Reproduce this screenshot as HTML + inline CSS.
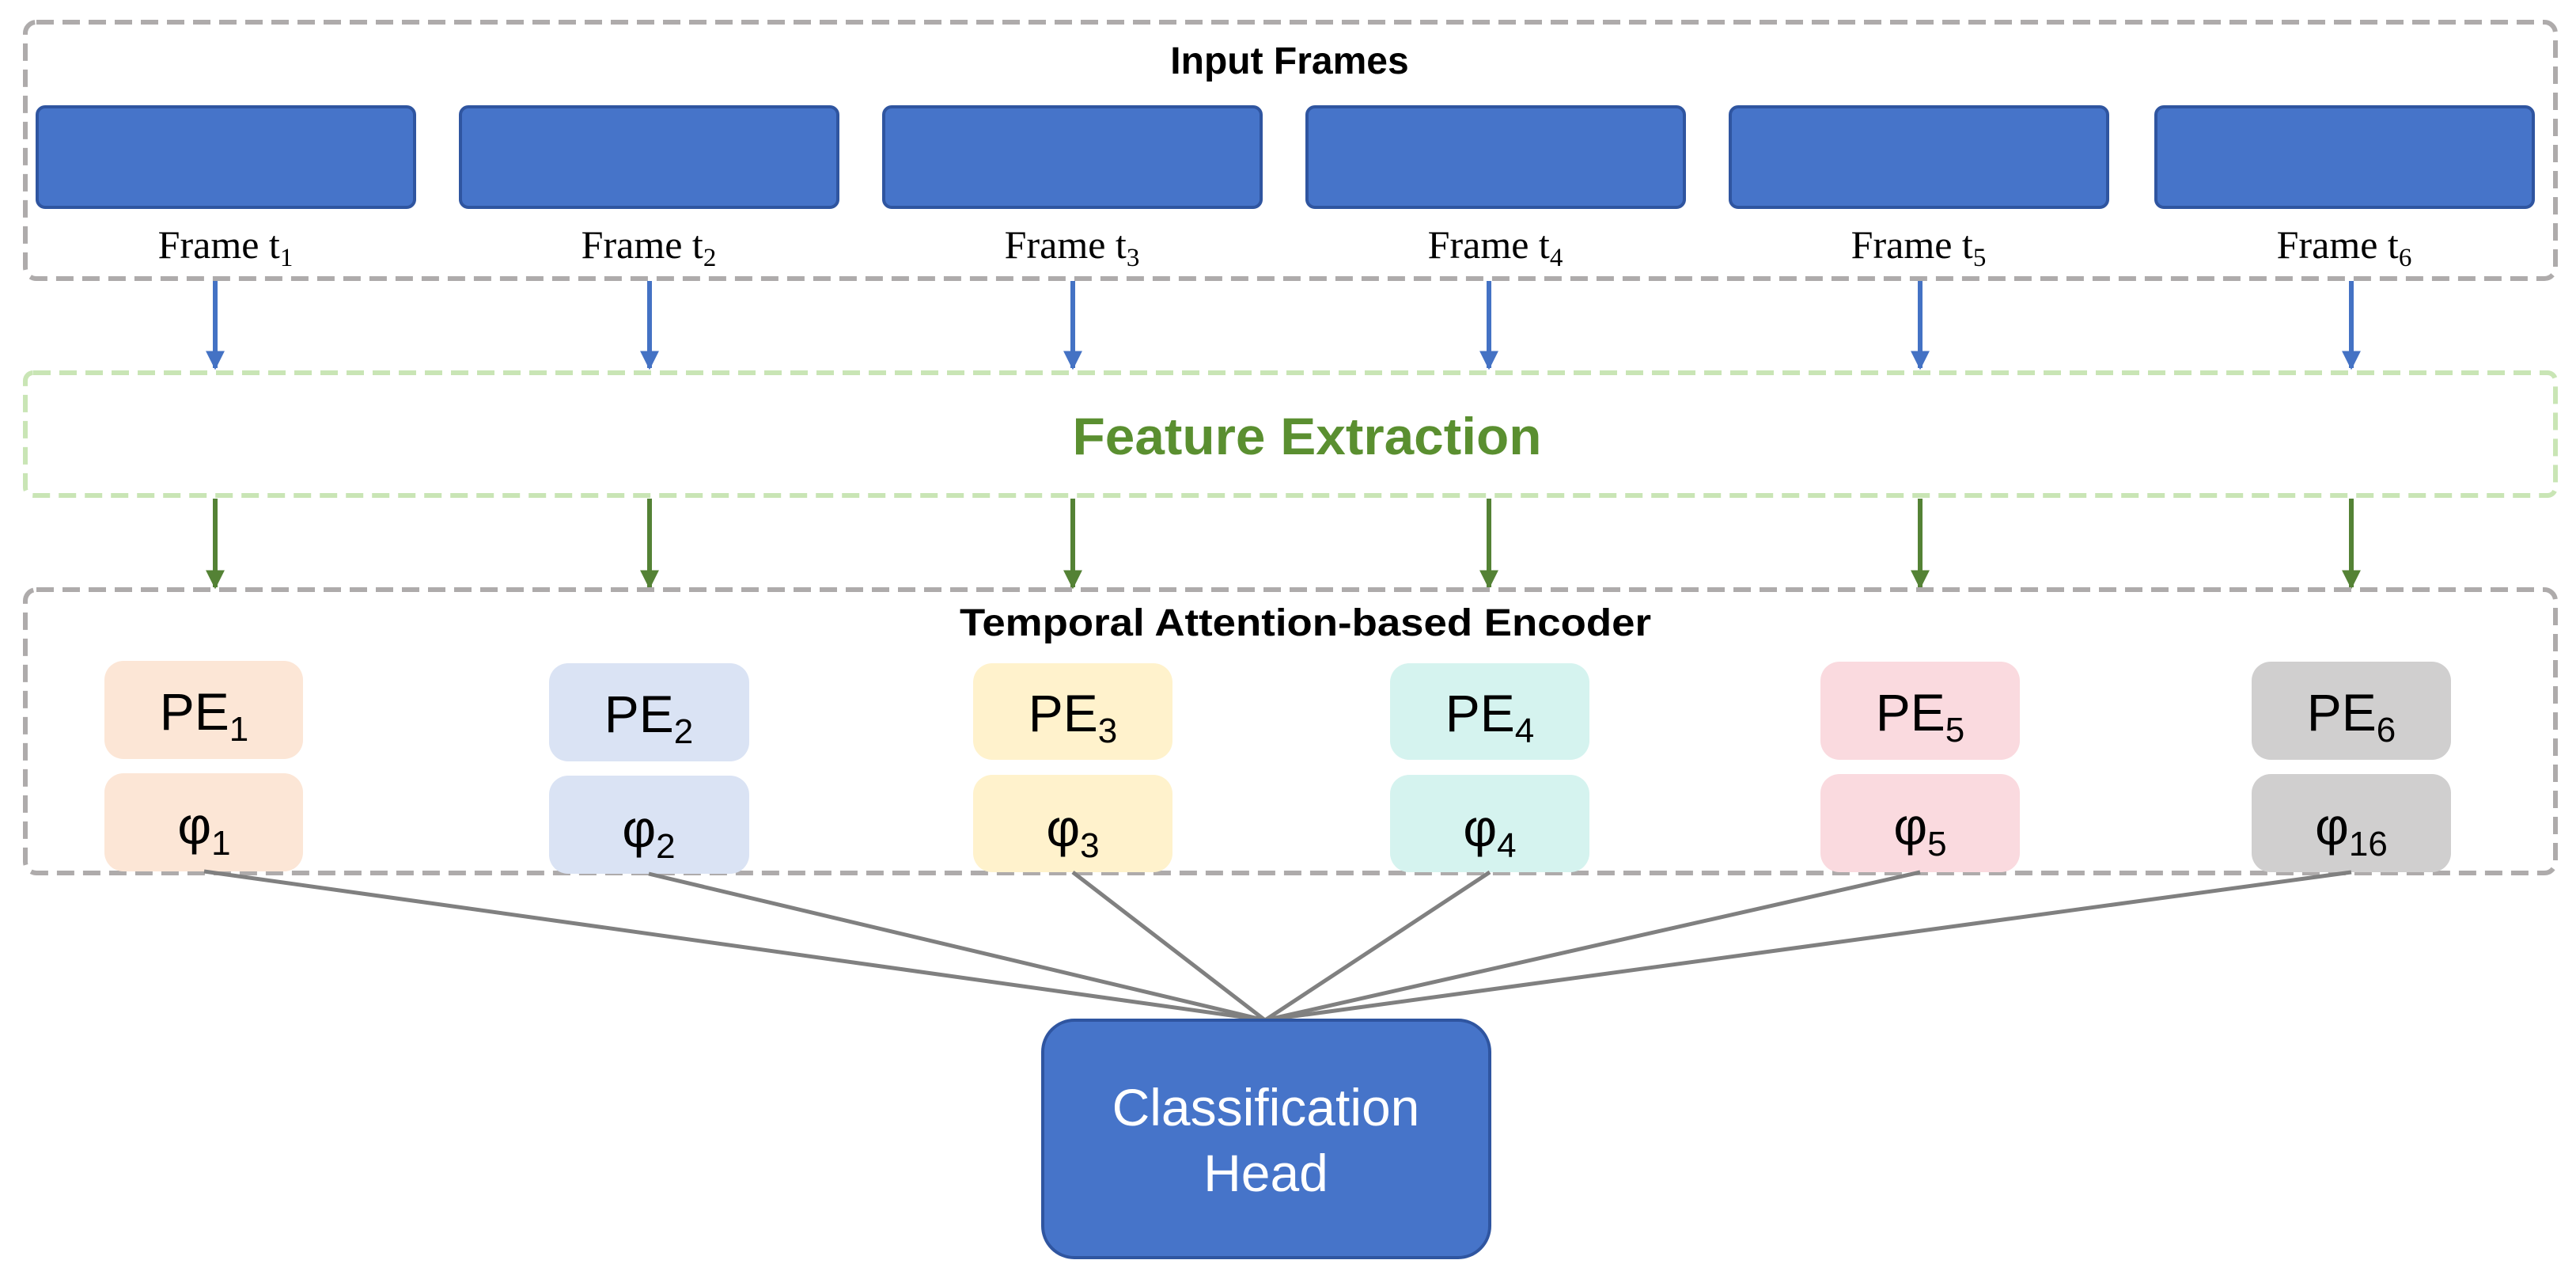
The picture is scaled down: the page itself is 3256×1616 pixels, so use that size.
<!DOCTYPE html>
<html><head><meta charset="utf-8"><style>
html,body{margin:0;padding:0;background:#fff}
svg{display:block}
</style></head><body>
<svg width="3256" height="1616" viewBox="0 0 3256 1616" xmlns="http://www.w3.org/2000/svg">
<defs>
<marker id="ab" markerWidth="4" markerHeight="4" refX="3.6" refY="2" orient="auto" markerUnits="strokeWidth"><path d="M0,0 L4,2 L0,4 z" fill="#4472c4"/></marker>
<marker id="ag" markerWidth="4" markerHeight="4" refX="3.6" refY="2" orient="auto" markerUnits="strokeWidth"><path d="M0,0 L4,2 L0,4 z" fill="#548235"/></marker>
</defs>
<!-- Input frames box -->
<rect x="32" y="28" width="3198" height="324" rx="14" fill="none" stroke="#aeabab" stroke-width="6" stroke-dasharray="22,11"/>
<text x="1630" y="93" font-family="Liberation Sans, sans-serif" font-weight="bold" font-size="48" text-anchor="middle">Input Frames</text>
<g fill="#4674c9" stroke="#2f55a0" stroke-width="4">
<rect x="47" y="135" width="477" height="127" rx="10"/>
<rect x="582" y="135" width="477" height="127" rx="10"/>
<rect x="1117" y="135" width="477" height="127" rx="10"/>
<rect x="1652" y="135" width="477" height="127" rx="10"/>
<rect x="2187" y="135" width="477" height="127" rx="10"/>
<rect x="2725" y="135" width="477" height="127" rx="10"/>
</g>
<g font-family="Liberation Serif, serif" font-size="50" text-anchor="middle">
<text x="285" y="326">Frame t<tspan font-size="33" dy="10">1</tspan></text>
<text x="820" y="326">Frame t<tspan font-size="33" dy="10">2</tspan></text>
<text x="1355" y="326">Frame t<tspan font-size="33" dy="10">3</tspan></text>
<text x="1890" y="326">Frame t<tspan font-size="33" dy="10">4</tspan></text>
<text x="2425" y="326">Frame t<tspan font-size="33" dy="10">5</tspan></text>
<text x="2963" y="326">Frame t<tspan font-size="33" dy="10">6</tspan></text>
</g>
<!-- blue arrows -->
<g stroke="#4472c4" stroke-width="6" marker-end="url(#ab)">
<line x1="272" y1="355" x2="272" y2="465"/>
<line x1="821" y1="355" x2="821" y2="465"/>
<line x1="1356" y1="355" x2="1356" y2="465"/>
<line x1="1882" y1="355" x2="1882" y2="465"/>
<line x1="2427" y1="355" x2="2427" y2="465"/>
<line x1="2972" y1="355" x2="2972" y2="465"/>
</g>
<!-- Feature extraction -->
<rect x="32" y="471" width="3198" height="155" rx="10" fill="none" stroke="#c9e5b5" stroke-width="6" stroke-dasharray="22,11"/>
<text x="1652" y="574" font-family="Liberation Sans, sans-serif" font-weight="bold" font-size="66" fill="#5a8f30" text-anchor="middle" textLength="593" lengthAdjust="spacingAndGlyphs">Feature Extraction</text>
<g stroke="#548235" stroke-width="6" marker-end="url(#ag)">
<line x1="272" y1="630" x2="272" y2="742"/>
<line x1="821" y1="630" x2="821" y2="742"/>
<line x1="1356" y1="630" x2="1356" y2="742"/>
<line x1="1882" y1="630" x2="1882" y2="742"/>
<line x1="2427" y1="630" x2="2427" y2="742"/>
<line x1="2972" y1="630" x2="2972" y2="742"/>
</g>
<!-- Encoder -->
<rect x="32" y="745" width="3198" height="358" rx="14" fill="none" stroke="#aeabab" stroke-width="6" stroke-dasharray="22,11"/>
<text x="1650" y="803" font-family="Liberation Sans, sans-serif" font-weight="bold" font-size="48" text-anchor="middle" textLength="874" lengthAdjust="spacingAndGlyphs">Temporal Attention-based Encoder</text>
<g>
<rect x="132" y="835" width="251" height="124" rx="24" fill="#fce6d6"/>
<rect x="132" y="977" width="251" height="124" rx="24" fill="#fce6d6"/>
<rect x="694" y="838" width="253" height="124" rx="24" fill="#dae3f4"/>
<rect x="694" y="980" width="253" height="124" rx="24" fill="#dae3f4"/>
<rect x="1230" y="838" width="252" height="122" rx="24" fill="#fff2cc"/>
<rect x="1230" y="979" width="252" height="123" rx="24" fill="#fff2cc"/>
<rect x="1757" y="838" width="252" height="122" rx="24" fill="#d5f3ef"/>
<rect x="1757" y="979" width="252" height="123" rx="24" fill="#d5f3ef"/>
<rect x="2301" y="836" width="252" height="124" rx="24" fill="#fadadf"/>
<rect x="2301" y="978" width="252" height="124" rx="24" fill="#fadadf"/>
<rect x="2846" y="836" width="252" height="124" rx="24" fill="#d0cfcf"/>
<rect x="2846" y="978" width="252" height="124" rx="24" fill="#d0cfcf"/>
</g>
<g font-family="Liberation Sans, sans-serif" font-size="66" text-anchor="middle">
<text x="258" y="922">PE<tspan font-size="44" dy="14">1</tspan></text>
<text x="820" y="925">PE<tspan font-size="44" dy="14">2</tspan></text>
<text x="1356" y="924">PE<tspan font-size="44" dy="14">3</tspan></text>
<text x="1883" y="924">PE<tspan font-size="44" dy="14">4</tspan></text>
<text x="2427" y="923">PE<tspan font-size="44" dy="14">5</tspan></text>
<text x="2972" y="923">PE<tspan font-size="44" dy="14">6</tspan></text>
<text x="258" y="1066">φ<tspan font-size="44" dy="14">1</tspan></text>
<text x="820" y="1070">φ<tspan font-size="44" dy="14">2</tspan></text>
<text x="1356" y="1069">φ<tspan font-size="44" dy="14">3</tspan></text>
<text x="1883" y="1069">φ<tspan font-size="44" dy="14">4</tspan></text>
<text x="2427" y="1067">φ<tspan font-size="44" dy="14">5</tspan></text>
<text x="2972" y="1067">φ<tspan font-size="44" dy="14">16</tspan></text>
</g>
<!-- connectors -->
<g stroke="#808080" stroke-width="5" fill="none">
<line x1="258" y1="1101" x2="1599" y2="1289"/>
<line x1="820" y1="1104" x2="1599" y2="1289"/>
<line x1="1356" y1="1102" x2="1599" y2="1289"/>
<line x1="1883" y1="1102" x2="1599" y2="1289"/>
<line x1="2427" y1="1102" x2="1599" y2="1289"/>
<line x1="2972" y1="1102" x2="1599" y2="1289"/>
</g>
<!-- classification head -->
<rect x="1318" y="1289" width="565" height="300" rx="40" fill="#4674c9" stroke="#2f55a0" stroke-width="4"/>
<g font-family="Liberation Sans, sans-serif" font-size="66" fill="#fff" text-anchor="middle">
<text x="1600" y="1422">Classification</text>
<text x="1600" y="1505">Head</text>
</g>
</svg>
</body></html>
